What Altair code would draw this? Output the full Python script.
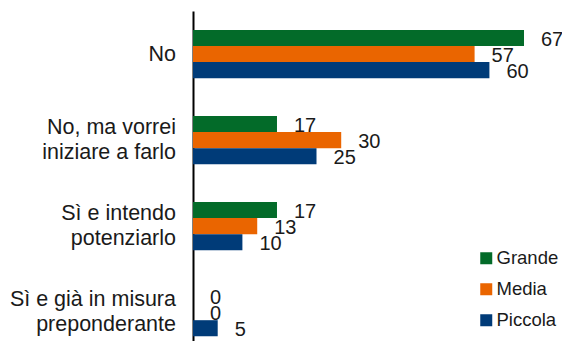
import altair as alt
import pandas as pd

categories = ["No", "No, ma vorrei\niniziare a farlo", "Sì e intendo\npotenziarlo ", "Sì e già in misura\npreponderante"]
series = ["Grande", "Media", "Piccola"]
grande = [67, 17, 17, 0]
media = [57, 30, 13, 0]
piccola = [60, 25, 10, 5]
colors = ["#036B29", "#EA6500", "#003B78"]

rows = []
for s, vals in zip(series, [grande, media, piccola]):
    for c, v in zip(categories, vals):
        rows.append({"cat": c, "serie": s, "val": v})
df = pd.DataFrame(rows)

single, line1, line2 = [], [], []
for c in categories:
    parts = c.split("\n")
    if len(parts) == 1:
        single.append({"cat": c, "txt": parts[0]})
    else:
        line1.append({"cat": c, "txt": parts[0]})
        line2.append({"cat": c, "txt": parts[1]})

FONT = "Liberation Sans"
TXT = "#1a1a1a"

y_scale = alt.Scale(domain=categories, paddingInner=0.44, paddingOuter=0.138, align=0.8)
y_enc = alt.Y(
    "cat:N",
    sort=categories,
    title=None,
    scale=y_scale,
    axis=alt.Axis(domain=True, domainColor="black", domainWidth=2, ticks=False,
                  grid=False, labels=False),
)
x_enc = alt.X("val:Q", scale=alt.Scale(domain=[0, 67], nice=False), axis=None)
yoff = alt.YOffset("serie:N", sort=series)

bars = alt.Chart(df).mark_bar().encode(
    y=y_enc,
    x=x_enc,
    yOffset=yoff,
    color=alt.Color(
        "serie:N", sort=series,
        scale=alt.Scale(domain=series, range=colors),
        legend=alt.Legend(
            title=None, orient="none", legendX=284, legendY=238,
            symbolType="square", symbolSize=144, symbolStrokeWidth=0,
            labelFont=FONT, labelFontSize=18.5, labelColor=TXT,
            labelOffset=1, rowPadding=12, padding=0,
        ),
    ),
)

labels = alt.Chart(df).mark_text(
    align="left", baseline="middle", dx=17, dy=2, font=FONT, fontSize=20, color=TXT
).encode(
    y=alt.Y("cat:N", sort=categories),
    x=alt.X("val:Q"),
    yOffset=yoff,
    text=alt.Text("val:Q"),
)

def cat_text(data, dy):
    return alt.Chart(pd.DataFrame(data)).mark_text(
        align="right", baseline="middle", dy=dy, font=FONT, fontSize=21.5, color=TXT
    ).encode(
        y=alt.Y("cat:N", sort=categories),
        x=alt.value(-17),
        text="txt:N",
    )

chart = alt.layer(
    bars, labels, cat_text(single, 1), cat_text(line1, -12), cat_text(line2, 13)
).properties(
    width=331, height=330,
    autosize=alt.AutoSizeParams(type="none"),
    padding={"left": 185, "top": 3, "right": 38, "bottom": 0},
).configure_view(stroke=None)

chart.save("out.html", embed_options={"renderer": "svg", "actions": False})
